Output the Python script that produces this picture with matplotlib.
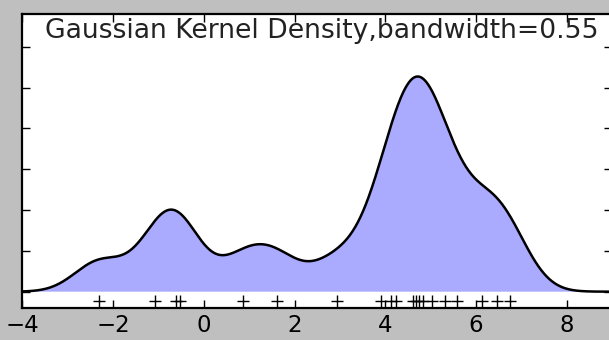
import numpy as np
import matplotlib
matplotlib.use("Agg")
import matplotlib.pyplot as plt

# Sample points read from the '+' markers
samples = [-2.30, -1.07, -0.61, -0.53, 0.87, 1.62,
           2.94, 3.90, 4.12, 4.24, 4.62, 4.68, 4.75, 4.83,
           5.04, 5.32, 5.58, 6.13, 6.46, 6.75]
bandwidth = 0.55
title_text = "Gaussian Kernel Density,bandwidth=0.55"
xticks = [-4, -2, 0, 2, 4, 6, 8]
yticks = [0.0, 0.05, 0.10, 0.15, 0.20, 0.25, 0.30]

X = np.array(samples)
x_plot = np.linspace(-5, 10, 1000)
dens = np.exp(-0.5 * ((x_plot[:, None] - X[None, :]) / bandwidth) ** 2).sum(axis=1)
dens /= len(X) * bandwidth * np.sqrt(2 * np.pi)

W, H = 609, 340
fig = plt.figure(figsize=(W / 100, H / 100), dpi=100, facecolor="#bfbfbf")
left = 22.3 / W
bottom = (H - 308) / H
ax = fig.add_axes([left, bottom, (612.1 - 22.3) / W, 294 / H])
ax.set_facecolor("white")

ax.fill(x_plot, dens, fc="#AAAAFF", ec="none")
ax.plot(x_plot, dens, "-k", lw=1.8)
ax.plot(X, np.full(len(X), -0.011), "+k", ms=8, mew=1.0)

ax.text(-3.5, 0.311, title_text, fontsize=19.2, color="#222222")

ax.set_xlim(-4, 9)
ax.set_ylim(-0.02, 0.34)
ax.set_xticks(xticks)
ax.set_xticklabels([str(t).replace("-", "\u2212") for t in xticks])
ax.set_yticks(yticks)
ax.set_yticklabels([])
ax.tick_params(direction="in", top=True, right=True, length=6, width=1,
               labelsize=16.5, colors="black", pad=4)
for s in ax.spines.values():
    s.set_linewidth(1.6)

fig.savefig("out.png", dpi=100, facecolor=fig.get_facecolor())
